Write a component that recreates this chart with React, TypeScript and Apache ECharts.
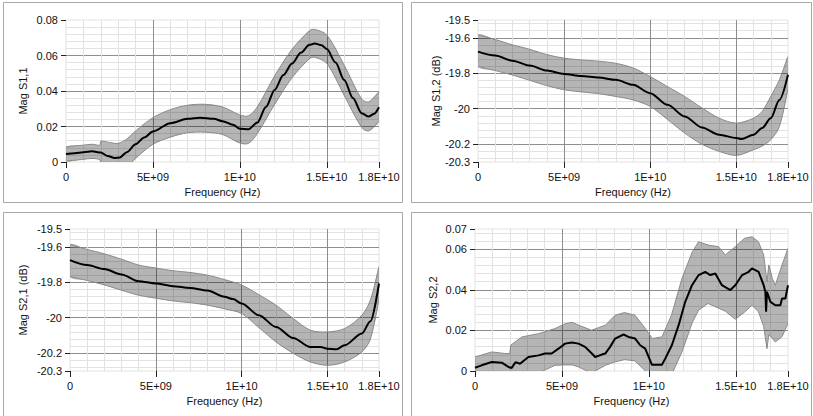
import React, { useEffect, useRef } from "react";
import * as echarts from "echarts";

// ---------- tick labels ----------
const xTickValues = [0, 5e9, 1e10, 1.5e10, 1.8e10];
const xTickLabels = ["0", "5E+09", "1E+10", "1.5E+10", "1.8E+10"];

const yTicksS11 = [0, 0.02, 0.04, 0.06, 0.08];
const yLabelsS11 = ["0", "0.02", "0.04", "0.06", "0.08"];
const yTicksDb = [-20.3, -20.2, -20, -19.8, -19.6, -19.5];
const yLabelsDb = ["-20.3", "-20.2", "-20", "-19.8", "-19.6", "-19.5"];
const yTicksS22 = [0, 0.02, 0.04, 0.06, 0.07];
const yLabelsS22 = ["0", "0.02", "0.04", "0.06", "0.07"];

// ---------- S1,1 ----------
const s11Freq = [0, 0.5e9, 1e9, 1.5e9, 2e9, 2.4e9, 2.8e9, 3.1e9, 3.5e9, 4e9, 4.5e9, 5e9, 6e9, 7e9, 7.7e9, 8.5e9, 9e9, 9.6e9, 10e9, 10.5e9, 11e9, 11.5e9, 12e9, 12.5e9, 13e9, 13.5e9, 14e9, 14.3e9, 14.7e9, 15e9, 15.5e9, 16e9, 16.5e9, 17e9, 17.4e9, 17.7e9, 18e9];
const s11Mag = [0.0045, 0.005, 0.0055, 0.006, 0.0053, 0.0034, 0.0022, 0.0026, 0.0055, 0.01, 0.0138, 0.0172, 0.0219, 0.0243, 0.025, 0.0243, 0.023, 0.021, 0.0187, 0.0185, 0.0222, 0.031, 0.0406, 0.049, 0.0555, 0.0615, 0.066, 0.0667, 0.0658, 0.0636, 0.056, 0.0462, 0.036, 0.0275, 0.0256, 0.027, 0.0308];
const s11BandFreq = [0, 1e9, 1.5e9, 1.95e9, 2.0e9, 2.5e9, 3e9, 3.5e9, 4e9, 5e9, 6e9, 7e9, 8e9, 9e9, 10e9, 10.5e9, 11e9, 12e9, 13e9, 14e9, 14.3e9, 15e9, 16e9, 17e9, 17.4e9, 18e9];
const s11Upper = [0.0085, 0.0095, 0.01, 0.0095, 0.0118, 0.011, 0.0105, 0.013, 0.0175, 0.025, 0.0295, 0.032, 0.0325, 0.031, 0.0265, 0.026, 0.031, 0.0485, 0.0635, 0.074, 0.0747, 0.0715, 0.0545, 0.0355, 0.0338, 0.0395];
const s11Lower = [0.0005, 0.0015, 0.002, 0.0012, -0.002, -0.005, -0.006, -0.003, 0.002, 0.01, 0.014, 0.0165, 0.0168, 0.0155, 0.0107, 0.0105, 0.016, 0.0325, 0.0475, 0.0582, 0.059, 0.0555, 0.0375, 0.0195, 0.0175, 0.023];

// ---------- S1,2 ----------
const s12Freq = [0, 1e9, 2e9, 3e9, 4e9, 5e9, 6e9, 7e9, 8e9, 9e9, 10e9, 11e9, 12e9, 13e9, 14e9, 15e9, 15.3e9, 16e9, 16.5e9, 17e9, 17.5e9, 18e9];
const s12Mag = [-19.678, -19.7, -19.729, -19.757, -19.785, -19.804, -19.815, -19.824, -19.837, -19.865, -19.912, -19.978, -20.043, -20.105, -20.146, -20.165, -20.171, -20.146, -20.109, -20.053, -19.95, -19.809];
const s12BandFreq = [0, 1e9, 2e9, 3e9, 4e9, 5e9, 6e9, 7e9, 8e9, 9e9, 10e9, 11e9, 12e9, 13e9, 14e9, 15e9, 16e9, 16.5e9, 17e9, 17.5e9, 18e9];
const s12Upper = [-19.584, -19.61, -19.64, -19.665, -19.695, -19.715, -19.725, -19.732, -19.744, -19.77, -19.819, -19.875, -19.931, -19.995, -20.053, -20.081, -20.053, -20.015, -19.93, -19.837, -19.706];
const s12Lower = [-19.762, -19.785, -19.81, -19.84, -19.87, -19.893, -19.905, -19.915, -19.931, -19.95, -19.987, -20.06, -20.137, -20.2, -20.24, -20.263, -20.231, -20.21, -20.175, -20.1, -19.884];

// ---------- S2,1 ----------
const s21Freq = [0, 1e9, 2e9, 3e9, 4e9, 5e9, 6e9, 7e9, 8e9, 9e9, 9.5e9, 10e9, 11e9, 12e9, 13e9, 14e9, 14.6e9, 15e9, 15.5e9, 16e9, 17e9, 17.5e9, 18e9];
const s21Mag = [-19.675, -19.703, -19.726, -19.756, -19.794, -19.807, -19.822, -19.832, -19.847, -19.882, -19.895, -19.92, -19.986, -20.052, -20.114, -20.165, -20.165, -20.174, -20.178, -20.155, -20.089, -20.02, -19.807];
const s21BandFreq = [0, 1e9, 2e9, 3e9, 4e9, 5e9, 6e9, 7e9, 8e9, 9e9, 10e9, 11e9, 12e9, 13e9, 14e9, 15e9, 16e9, 17e9, 17.5e9, 18e9];
const s21Upper = [-19.587, -19.615, -19.64, -19.67, -19.703, -19.72, -19.735, -19.745, -19.76, -19.785, -19.816, -19.87, -19.929, -20.004, -20.07, -20.08, -20.061, -19.986, -19.9, -19.713];
const s21Lower = [-19.769, -19.79, -19.815, -19.845, -19.873, -19.89, -19.905, -19.915, -19.929, -19.95, -19.976, -20.055, -20.136, -20.2, -20.249, -20.268, -20.249, -20.193, -20.12, -19.891];

// ---------- S2,2 ----------
const s22Freq = [0, 0.38e9, 0.96e9, 1.54e9, 1.92e9, 2.11e9, 2.26e9, 2.34e9, 2.59e9, 3.07e9, 3.65e9, 4.03e9, 4.41e9, 4.8e9, 5.18e9, 5.57e9, 5.95e9, 6.33e9, 6.72e9, 6.91e9, 7.29e9, 7.49e9, 7.77e9, 8.06e9, 8.54e9, 8.83e9, 9.21e9, 9.5e9, 9.79e9, 10.17e9, 10.75e9, 10.94e9, 11.32e9, 11.71e9, 12.09e9, 12.48e9, 12.86e9, 13.24e9, 13.53e9, 13.82e9, 14.2e9, 14.68e9, 14.97e9, 15.36e9, 15.74e9, 15.93e9, 16.31e9, 16.6e9, 16.7e9, 16.74e9, 16.79e9, 16.99e9, 17.27e9, 17.56e9, 17.66e9, 17.85e9, 18e9];
const s22Mag = [0.0016, 0.0028, 0.0044, 0.0041, 0.002, 0.0015, 0.0035, 0.0044, 0.0036, 0.0069, 0.0077, 0.0086, 0.0086, 0.011, 0.0135, 0.014, 0.0135, 0.0119, 0.0086, 0.0069, 0.0081, 0.0086, 0.0119, 0.016, 0.018, 0.0168, 0.016, 0.0127, 0.011, 0.0031, 0.0031, 0.0061, 0.0127, 0.0226, 0.0341, 0.0423, 0.0473, 0.0489, 0.0473, 0.0481, 0.0423, 0.0399, 0.0423, 0.0473, 0.0489, 0.0506, 0.0489, 0.0423, 0.039, 0.0292, 0.039, 0.0341, 0.0324, 0.0324, 0.0358, 0.0358, 0.0423];
const s22BandFreq = [0, 0.96e9, 1.73e9, 2.0e9, 2.05e9, 2.7e9, 3.65e9, 4.6e9, 5.2e9, 5.6e9, 5.95e9, 6.7e9, 7.5e9, 8.06e9, 8.6e9, 9.2e9, 9.8e9, 10.2e9, 10.75e9, 11.3e9, 11.9e9, 12.5e9, 12.86e9, 13.4e9, 14.0e9, 14.4e9, 14.97e9, 15.5e9, 15.93e9, 16.3e9, 16.6e9, 16.79e9, 16.9e9, 17.1e9, 17.27e9, 17.66e9, 18e9];
const s22Upper = [0.0069, 0.0094, 0.0086, 0.0086, 0.0127, 0.0168, 0.0184, 0.0209, 0.0234, 0.024, 0.0226, 0.0201, 0.0226, 0.0275, 0.0288, 0.0275, 0.0209, 0.016, 0.0168, 0.0275, 0.0456, 0.0588, 0.0637, 0.0621, 0.0613, 0.0572, 0.0613, 0.0654, 0.0662, 0.0637, 0.0572, 0.044, 0.0523, 0.0456, 0.0423, 0.0523, 0.0605];
const s22Lower = [-0.003, -0.002, -0.002, -0.003, -0.004, -0.003, -0.001, 0.0028, 0.003, 0.003, 0.002, -0.001, 0.0028, 0.0045, 0.0056, 0.005, 0.0, -0.005, -0.005, -0.002, 0.0094, 0.024, 0.03, 0.0333, 0.031, 0.0295, 0.0255, 0.029, 0.0324, 0.0292, 0.022, 0.011, 0.018, 0.016, 0.0143, 0.017, 0.0234];

// ---------- styles ----------
const FONT = "'Liberation Sans', Arial, sans-serif";
const TEXT = "#111";
const MAJOR = "#8e8e8e";
const MINOR = "#e2e2e2";
const EDGE = "#8a8a8a";
const FILL = "rgba(0,0,0,0.29)";
const BORDER = "#a8a8a8";

function labelFrom(values: number[], labels: string[]) {
  return (v: number) => {
    for (let i = 0; i < values.length; i++) {
      if (Math.abs(values[i] - v) < Math.abs(values[i]) * 1e-6 + 1e-9) return labels[i];
    }
    return "";
  };
}

function xAxis(idx: number) {
  return {
    type: "value",
    gridIndex: idx,
    min: 0,
    max: 1.8e10,
    interval: 5e9,
    name: "Frequency (Hz)",
    nameLocation: "middle",
    nameGap: 24,
    nameTextStyle: { fontFamily: FONT, fontSize: 11, color: TEXT },
    axisLine: { show: false },
    axisTick: { show: true, length: 6, lineStyle: { color: "#222" } },
    axisLabel: {
      margin: 9,
      fontFamily: FONT,
      fontSize: 11,
      color: TEXT,
      formatter: labelFrom(xTickValues, xTickLabels),
      showMinLabel: true,
      showMaxLabel: true,
    },
    splitLine: { show: true, showMinLine: false, showMaxLine: false, lineStyle: { color: MAJOR, width: 1 } },
    minorTick: { show: false, splitNumber: 5 },
    minorSplitLine: { show: true, lineStyle: { color: MINOR, width: 1 } },
  };
}

function yAxis(idx: number, name: string, min: number, max: number, interval: number | undefined, ticks: number[], labels: string[], nameGap: number) {
  const ax: any = {
    type: "value",
    gridIndex: idx,
    min,
    max,
    splitNumber: 5,
    name,
    nameLocation: "middle",
    nameGap,
    nameTextStyle: { fontFamily: FONT, fontSize: 11, color: TEXT },
    axisLine: { show: false },
    axisTick: { show: true, length: 5, lineStyle: { color: "#222" } },
    axisLabel: {
      margin: 8,
      fontFamily: FONT,
      fontSize: 11,
      color: TEXT,
      formatter: labelFrom(ticks, labels),
      showMinLabel: true,
      showMaxLabel: true,
    },
    splitLine: { show: true, showMinLine: false, showMaxLine: false, lineStyle: { color: MAJOR, width: 1 } },
    minorTick: { show: false, splitNumber: 5 },
    minorSplitLine: { show: true, lineStyle: { color: MINOR, width: 1 } },
  };
  if (interval !== undefined) ax.interval = interval;
  return ax;
}

// band drawn as one polygon (upper edge forward, lower edge backward) through the axes' scales
function bandSeries(idx: number, f: number[], up: number[], lo: number[], smooth: number) {
  return {
    type: "custom",
    xAxisIndex: idx,
    yAxisIndex: idx,
    coordinateSystem: "cartesian2d",
    clip: true,
    silent: true,
    z: 2,
    data: [[f[0], up[0]]],
    renderItem: (params: any, api: any) => {
      const upperPts = f.map((x, i) => api.coord([x, up[i]]));
      const lowerPts = f.map((x, i) => api.coord([x, lo[i]]));
      const poly = upperPts.concat(lowerPts.slice().reverse());
      const cs = params.coordSys;
      return {
        type: "group",
        children: [
          {
            type: "polygon",
            shape: { points: poly, smooth, smoothConstraint: false },
            style: { fill: FILL, stroke: "none" },
          },
          {
            type: "polyline",
            shape: { points: upperPts, smooth },
            style: { fill: "none", stroke: EDGE, lineWidth: 1 },
          },
          {
            type: "polyline",
            shape: { points: lowerPts, smooth },
            style: { fill: "none", stroke: EDGE, lineWidth: 1 },
          },
        ],
        clipPath: { type: "rect", shape: { x: cs.x, y: cs.y, width: cs.width, height: cs.height } },
      };
    },
  };
}

function mainSeries(idx: number, f: number[], v: number[], smooth: number | boolean) {
  return {
    type: "line",
    xAxisIndex: idx,
    yAxisIndex: idx,
    data: f.map((x, i) => [x, v[i]]),
    symbol: "none",
    smooth,
    smoothMonotone: "x",
    lineStyle: { color: "#000", width: 2 },
    silent: true,
    z: 3,
  };
}

function panelRect(x: number, y: number, w: number, h: number) {
  return {
    type: "rect",
    silent: true,
    z: -10,
    shape: { x: x + 0.5, y: y + 0.5, width: w, height: h },
    style: { fill: "none", stroke: BORDER, lineWidth: 1 },
  };
}

export default function App() {
  const ref = useRef<HTMLDivElement>(null);
  useEffect(() => {
    if (!ref.current) return;
    const chart = echarts.init(ref.current, undefined, { renderer: "svg" });
    const option: any = {
      animation: false,
      backgroundColor: "#fff",
      graphic: [
        panelRect(3, 2, 399, 200),
        panelRect(411, 2, 400, 200),
        panelRect(3, 212, 399, 210),
        panelRect(411, 212, 400, 210),
      ],
      grid: [
        { left: 66, top: 20, width: 313, height: 142, show: true, borderColor: MINOR, borderWidth: 1, backgroundColor: "transparent" },
        { left: 478, top: 20, width: 310, height: 142, show: true, borderColor: MINOR, borderWidth: 1, backgroundColor: "transparent" },
        { left: 70, top: 229, width: 309, height: 142, show: true, borderColor: MINOR, borderWidth: 1, backgroundColor: "transparent" },
        { left: 475, top: 229, width: 313, height: 142, show: true, borderColor: MINOR, borderWidth: 1, backgroundColor: "transparent" },
      ],
      xAxis: [xAxis(0), xAxis(1), xAxis(2), xAxis(3)],
      yAxis: [
        yAxis(0, "Mag S1,1", 0, 0.08, 0.02, yTicksS11, yLabelsS11, 38),
        yAxis(1, "Mag S1,2 (dB)", -20.3, -19.5, undefined, yTicksDb, yLabelsDb, 37),
        yAxis(2, "Mag S2,1 (dB)", -20.3, -19.5, undefined, yTicksDb, yLabelsDb, 42),
        yAxis(3, "Mag S2,2", 0, 0.07, 0.02, yTicksS22, yLabelsS22, 37),
      ],
      series: [
        bandSeries(0, s11BandFreq, s11Upper, s11Lower, 0.3),
        mainSeries(0, s11Freq, s11Mag, 0.3),
        bandSeries(1, s12BandFreq, s12Upper, s12Lower, 0.3),
        mainSeries(1, s12Freq, s12Mag, 0.3),
        bandSeries(2, s21BandFreq, s21Upper, s21Lower, 0.3),
        mainSeries(2, s21Freq, s21Mag, 0.3),
        bandSeries(3, s22BandFreq, s22Upper, s22Lower, 0),
        mainSeries(3, s22Freq, s22Mag, false),
      ],
    };
    chart.setOption(option);
    return () => chart.dispose();
  }, []);
  return (
    <div
      ref={ref}
      style={{ position: "absolute", left: 0, top: 0, width: 813, height: 416, background: "#fff" }}
    />
  );
}
